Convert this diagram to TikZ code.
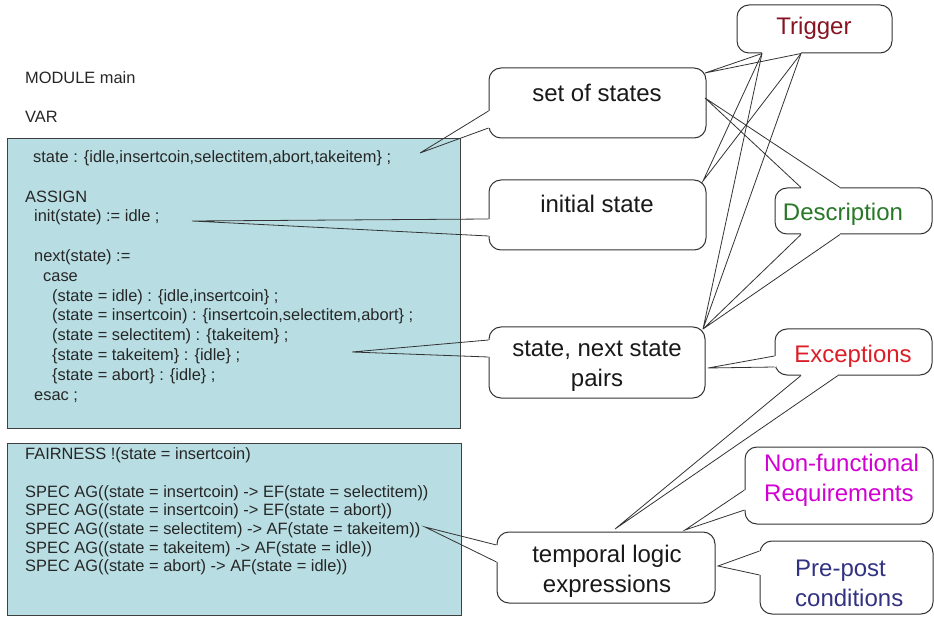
\documentclass[tikz,border=0pt]{standalone}
\usepackage{fontspec}
\setmainfont{Liberation Sans}
\usetikzlibrary{calc}
\definecolor{codefill}{RGB}{184,222,227}
\definecolor{trigcol}{RGB}{135,20,35}
\definecolor{desccol}{RGB}{40,120,40}
\definecolor{exccol}{RGB}{220,30,40}
\definecolor{nfcol}{RGB}{210,0,210}
\definecolor{ppcol}{RGB}{50,50,130}
\begin{document}
\begin{tikzpicture}[x=1pt,y=-1pt,
  codebox/.style={draw=black!75, fill=codefill, line width=0.9pt, inner sep=0pt},
  code/.style={anchor=base west, inner sep=0pt, font=\fontsize{16.4}{19.8}\selectfont, text=black!85},
  cbox/.style={draw=black!80, fill=white, rounded corners=12pt, line width=1pt, inner sep=0pt},
  ctext/.style={font=\fontsize{24}{30}\selectfont, inner sep=0pt, align=center, text=black!90},
  wedgeline/.style={draw=black!80, line width=0.8pt},
  gapline/.style={draw=white, line width=2.6pt}]
\useasboundingbox (0,0) rectangle (934,617);
\fill[white] (0,0) rectangle (934,617);

% code boxes
\node[codebox, minimum width=453, minimum height=290] (code1) at (233.5,283) {};
\node[codebox, minimum width=454, minimum height=172] (code2) at (234,529) {};

% code text
\node[code] (l1) at (25,83.4) {MODULE main};
\node[code] (l2) at (25,123) {VAR};
\node[code] (l3) at (33,162.6) {state : \{idle,insertcoin,selectitem,abort,takeitem\} ;};
\node[code] (l4) at (25,202.2) {ASSIGN};
\node[code] (l5) at (34,222) {init(state) := idle ;};
\node[code] (l6) at (34,261.6) {next(state) :=};
\node[code] (l7) at (43,281.4) {case};
\node[code] (l8) at (52,301.2) {(state = idle) : \{idle,insertcoin\} ;};
\node[code] (l9) at (52,321) {(state = insertcoin) : \{insertcoin,selectitem,abort\} ;};
\node[code] (l10) at (52,340.8) {(state = selectitem) : \{takeitem\} ;};
\node[code] (l11) at (52,360.6) {\{state = takeitem\} : \{idle\} ;};
\node[code] (l12) at (52,380.4) {\{state = abort\} : \{idle\} ;};
\node[code] (l13) at (34,400.2) {esac ;};

\node[code] (s1) at (25,459) {FAIRNESS !(state = insertcoin)};
\node[code] (s2) at (25,497) {SPEC AG((state = insertcoin) -> EF(state = selectitem))};
\node[code] (s3) at (25,515.7) {SPEC AG((state = insertcoin) -> EF(state = abort))};
\node[code] (s4) at (25,534.4) {SPEC AG((state = selectitem) -> AF(state = takeitem))};
\node[code] (s5) at (25,553.1) {SPEC AG((state = takeitem) -> AF(state = idle))};
\node[code] (s6) at (25,571.8) {SPEC AG((state = abort) -> AF(state = idle))};

% callout boxes
\node[cbox, minimum width=155, minimum height=48] (trig) at (814.5,29) {};
\node[cbox, minimum width=217, minimum height=70] (sos) at (597.5,103) {};
\node[cbox, minimum width=217, minimum height=70] (ini) at (597.5,215) {};
\node[cbox, minimum width=216, minimum height=71] (snp) at (597,362.5) {};
\node[cbox, minimum width=218, minimum height=71] (tle) at (606,567.5) {};
\node[cbox, minimum width=157, minimum height=46] (desc) at (853.5,211) {};
\node[cbox, minimum width=157, minimum height=46] (exc) at (853.5,352) {};
\node[cbox, minimum width=188, minimum height=77] (nf) at (839,485.5) {};
\node[cbox, minimum width=173, minimum height=73] (pp) at (846.5,577.5) {};

% wedge tips
\coordinate (tSos) at (420,153);
\coordinate (tIni) at (192,221);
\coordinate (tSnp) at (352,352);
\coordinate (tTle) at (425,527);
\coordinate (tTrigSos) at (705,73);
\coordinate (tTrigIni) at (703,181);
\coordinate (tSnpTop) at (703,329);
\coordinate (tDescSos) at (705,98);
\coordinate (tExcSnp) at (708,368);
\coordinate (tExcTle) at (615,529);
\coordinate (tNfTle) at (685,530);
\coordinate (tPpTle) at (718,566);

% wedge bases
\coordinate (sosA) at (sos.west |- 0,111);
\coordinate (sosB) at (sos.west |- 0,128);
\coordinate (iniA) at (ini.west |- 0,219);
\coordinate (iniB) at (ini.west |- 0,236);
\coordinate (snpA) at (snp.west |- 0,340);
\coordinate (snpB) at (snp.west |- 0,357);
\coordinate (tleA) at (tle.west |- 0,545);
\coordinate (tleB) at (tle.west |- 0,562);
\coordinate (trigA) at (762,0 |- trig.south);
\coordinate (trigB) at (801,0 |- trig.south);
\coordinate (descA) at (801,0 |- desc.north);
\coordinate (descB) at (840,0 |- desc.north);
\coordinate (descC) at (801,0 |- desc.south);
\coordinate (descD) at (840,0 |- desc.south);
\coordinate (excA) at (exc.west |- 0,356);
\coordinate (excB) at (exc.west |- 0,367);
\coordinate (excC) at (801,0 |- exc.south);
\coordinate (excD) at (838,0 |- exc.south);
\coordinate (nfA) at (nf.west |- 0,490);
\coordinate (nfB) at (nf.west |- 0,510);
\coordinate (ppA) at (pp.west |- 0,551);
\coordinate (ppB) at (pp.west |- 0,575);

% gaps in the outlines
\foreach \a/\b in {sosA/sosB, iniA/iniB, snpA/snpB, tleA/tleB, trigA/trigB,
  descA/descB, descC/descD, excA/excB, excC/excD, nfA/nfB, ppA/ppB}
  \draw[gapline] (\a) -- (\b);

% wedges
\draw[wedgeline] (sosA) -- (tSos) -- (sosB);
\draw[wedgeline] (iniA) -- (tIni) -- (iniB);
\draw[wedgeline] (snpA) -- (tSnp) -- (snpB);
\draw[wedgeline] (tleA) -- (tTle) -- (tleB);
\draw[wedgeline] (trigA) -- (tTrigSos) -- (trigB);
\draw[wedgeline] (trigA) -- (tTrigIni) -- (trigB);
\draw[wedgeline] (trigA) -- (tSnpTop) -- (trigB);
\draw[wedgeline] (descA) -- (tDescSos) -- (descB);
\draw[wedgeline] (descC) -- (tSnpTop) -- (descD);
\draw[wedgeline] (excA) -- (tExcSnp) -- (excB);
\draw[wedgeline] (excC) -- (tExcTle) -- (excD);
\draw[wedgeline] (nfA) -- (tNfTle) -- (nfB);
\draw[wedgeline] (ppA) -- (tPpTle) -- (ppB);

% callout texts
\node[ctext, text=trigcol] (trigT) at (814,28) {Trigger};
\node[ctext] (sosT) at (597,93) {set of states};
\node[ctext] (iniT) at (597,204) {initial state};
\node[ctext] (snpT) at (597,366) {state, next state\\pairs};
\node[ctext] (tleT) at (607,571) {temporal logic\\expressions};
\node[ctext, text=desccol] (descT) at (843,214) {Description};
\node[ctext, text=exccol] (excT) at (853,356) {Exceptions};
\node[ctext, text=nfcol, align=left, anchor=west] (nfT) at (764,480) {Non-functional\\Requirements};
\node[ctext, text=ppcol, align=left, anchor=west] (ppT) at (795,583) {Pre-post\\conditions};
\end{tikzpicture}
\end{document}
